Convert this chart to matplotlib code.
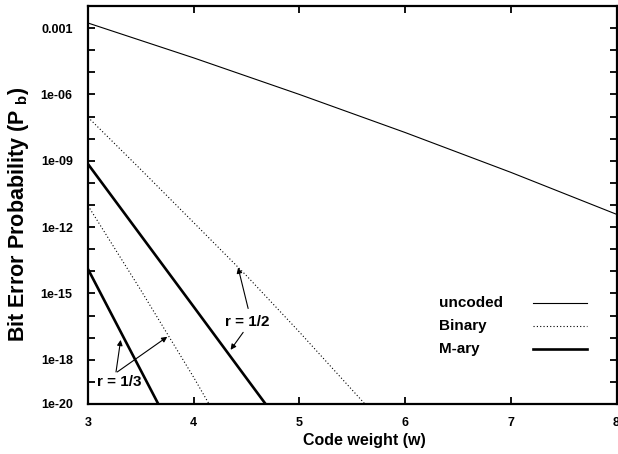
import matplotlib
matplotlib.use("Agg")
import matplotlib.pyplot as plt
from matplotlib.lines import Line2D
import numpy as np

plt.rcParams['font.family'] = ['Liberation Sans', 'DejaVu Sans']
plt.rcParams['font.weight'] = 'bold'
plt.rcParams['mathtext.fontset'] = 'custom'
plt.rcParams['mathtext.bf'] = 'Liberation Sans:bold'
plt.rcParams['mathtext.rm'] = 'Liberation Sans:bold'

# ---- data ----
w_uncoded = [3.0, 4.0, 5.0, 6.0, 7.0, 8.0]
pb_uncoded = [1.7e-03, 4.5e-05, 1.0e-06, 1.9e-08, 3.0e-10, 3.8e-12]

w_bin_half = [3.0, 3.5, 4.0, 4.5, 5.0, 5.62]
pb_bin_half = [9.3e-08, 4.0e-10, 1.6e-12, 6.3e-15, 1.8e-17, 1.0e-20]

w_bin_third = [3.0, 3.5, 4.0, 4.145]
pb_bin_third = [9.3e-12, 1.4e-15, 1.6e-19, 1.0e-20]

w_mary_half = [3.0, 3.5, 4.0, 4.5, 4.68]
pb_mary_half = [7.1e-10, 4.2e-13, 2.5e-16, 1.45e-19, 1.0e-20]

w_mary_third = [3.0, 3.665]
pb_mary_third = [1.26e-14, 1.0e-20]

x_ticks = [3, 4, 5, 6, 7, 8]
y_major = [1e-3, 1e-6, 1e-9, 1e-12, 1e-15, 1e-18, 1e-20]
y_major_labels = ['0.001', '1e-06', '1e-09', '1e-12', '1e-15', '1e-18', '1e-20']
legend_labels = ['uncoded', 'Binary', 'M-ary']

# ---- figure ----
fig = plt.figure(figsize=(6.18, 4.54), dpi=100)
ax = fig.add_axes([88/618, 1-404/454, (616.5-88)/618, (404-6)/454])

thin = 0.8
thick = 1.9
dot = (0, (1.0, 2.0))

ax.plot(w_uncoded, pb_uncoded, color='black', lw=thin)
ax.plot(w_bin_half, pb_bin_half, color='black', lw=thin, linestyle=dot)
ax.plot(w_bin_third, pb_bin_third, color='black', lw=thin, linestyle=dot)
ax.plot(w_mary_half, pb_mary_half, color='black', lw=thick, solid_capstyle='butt')
ax.plot(w_mary_third, pb_mary_third, color='black', lw=thick, solid_capstyle='butt')

ax.set_yscale('log')
ax.set_xlim(3, 8)
ax.set_ylim(1e-20, 1e-2)

ax.set_xticks(x_ticks)
ax.set_xticklabels([str(t) for t in x_ticks])
ax.yaxis.set_major_locator(matplotlib.ticker.FixedLocator(y_major))
ax.yaxis.set_major_formatter(matplotlib.ticker.FixedFormatter(y_major_labels))
ax.yaxis.set_minor_locator(matplotlib.ticker.FixedLocator([10.0**k for k in range(-20, -1)]))
ax.yaxis.set_minor_formatter(matplotlib.ticker.NullFormatter())

ax.tick_params(axis='both', which='both', direction='in', top=True, right=True,
               width=1.3, labelsize=9)
ax.tick_params(axis='both', which='major', length=5)
ax.tick_params(axis='y', which='minor', length=5)
ax.tick_params(axis='y', which='major', pad=11)
ax.tick_params(axis='x', which='major', pad=9)
for lab in ax.get_xticklabels() + ax.get_yticklabels():
    lab.set_fontweight('bold')

for s in ax.spines.values():
    s.set_linewidth(1.6)

ax.set_xlabel('Code weight (w)', fontsize=11.5, fontweight='bold')
ax.xaxis.set_label_coords((364 - 88) / 528.5, -(441 - 404) / 398, transform=ax.transAxes)
ax.xaxis.label.set_va('center')
ax.set_ylabel(r'Bit Error Probability (P $_{\mathbf{b}}$)', fontsize=15.5,
              fontweight='bold')
ax.yaxis.set_label_coords(-(88 - 19) / 528.5, (404 - 214) / 398, transform=ax.transAxes)
ax.yaxis.label.set_va('center')

# ---- annotations ----
arrow_kw = dict(arrowstyle='-|>', lw=0.8, color='black', mutation_scale=8,
                shrinkA=0, shrinkB=0)
ax.text(4.503, 10**-16.27, 'r = 1/2', fontsize=11, fontweight='bold',
        ha='center', va='center')
ax.annotate('', xy=(4.42, 10**-13.83), xytext=(4.515, 10**-15.68), arrowprops=arrow_kw)
ax.annotate('', xy=(4.349, 10**-17.55), xytext=(4.468, 10**-16.76), arrowprops=arrow_kw)

ax.text(3.291, 10**-19.0, 'r = 1/3', fontsize=11, fontweight='bold',
        ha='center', va='center')
ax.annotate('', xy=(3.309, 10**-17.1), xytext=(3.265, 10**-18.55), arrowprops=arrow_kw)
ax.annotate('', xy=(3.75, 10**-16.96), xytext=(3.277, 10**-18.55), arrowprops=arrow_kw)

# ---- legend (label left, sample right) ----
leg_y = [0.255, 0.197, 0.139]
styles = [dict(lw=thin, linestyle='-'), dict(lw=thin, linestyle=dot), dict(lw=thick, linestyle='-')]
for lab, yy, st in zip(legend_labels, leg_y, styles):
    ax.text(0.665, yy, lab, transform=ax.transAxes, fontsize=11, fontweight='bold',
            ha='left', va='center')
    ax.add_line(Line2D([0.842, 0.944], [yy, yy], transform=ax.transAxes,
                       color='black', **st))

fig.savefig('out.png', dpi=100)
